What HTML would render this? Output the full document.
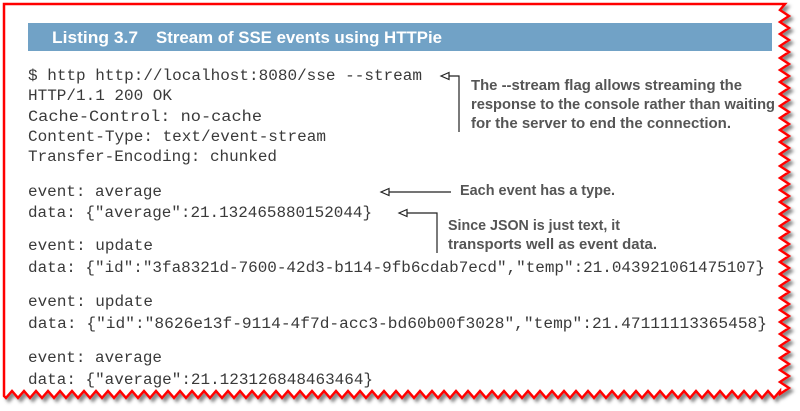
<!DOCTYPE html>
<html><head><meta charset="utf-8"><style>
html,body{margin:0;padding:0;background:#fff;}
svg{display:block}
.c{font-family:"Liberation Mono",monospace;font-size:15.5px;fill:#3a3a3a}
.a{font-family:"Liberation Sans",sans-serif;font-weight:bold;font-size:15px;fill:#555}
</style></head><body>
<svg width="800" height="411" viewBox="0 0 800 411">
<defs><filter id="sh"><feDropShadow dx="3" dy="3" stdDeviation="1.5" flood-color="#888"/></filter></defs>
<path id="brd" d="M4,395 L4,4 L785,4 L787,393 Z" fill="#fff" stroke="#f00" stroke-width="2.5" filter="url(#sh)"/>
<rect x="28" y="23" width="744" height="28" fill="#71a2c6"/>
<g font-family="Liberation Sans,sans-serif" font-weight="bold" font-size="17" fill="#fff">
<text x="52" y="43" textLength="86" lengthAdjust="spacingAndGlyphs">Listing 3.7</text>
<text x="156" y="43" textLength="286" lengthAdjust="spacingAndGlyphs">Stream of SSE events using HTTPie</text>
</g>
<g class="c">
<text x="28" y="80" textLength="394" lengthAdjust="spacingAndGlyphs">$ http http://localhost:8080/sse --stream</text>
<text x="28" y="100" textLength="144" lengthAdjust="spacingAndGlyphs">HTTP/1.1 200 OK</text>
<text x="28" y="121" textLength="234" lengthAdjust="spacingAndGlyphs">Cache-Control: no-cache</text>
<text x="28" y="141" textLength="298" lengthAdjust="spacingAndGlyphs">Content-Type: text/event-stream</text>
<text x="28" y="161" textLength="249" lengthAdjust="spacingAndGlyphs">Transfer-Encoding: chunked</text>
<text x="28" y="196" textLength="134" lengthAdjust="spacingAndGlyphs">event: average</text>
<text x="28" y="217" textLength="344" lengthAdjust="spacingAndGlyphs">data: {"average":21.132465880152044}</text>
<text x="28" y="250" textLength="125" lengthAdjust="spacingAndGlyphs">event: update</text>
<text x="28" y="272" textLength="737" lengthAdjust="spacingAndGlyphs">data: {"id":"3fa8321d-7600-42d3-b114-9fb6cdab7ecd","temp":21.043921061475107}</text>
<text x="28" y="306" textLength="125" lengthAdjust="spacingAndGlyphs">event: update</text>
<text x="28" y="328" textLength="739" lengthAdjust="spacingAndGlyphs">data: {"id":"8626e13f-9114-4f7d-acc3-bd60b00f3028","temp":21.47111113365458}</text>
<text x="28" y="362" textLength="134" lengthAdjust="spacingAndGlyphs">event: average</text>
<text x="28" y="384" textLength="345" lengthAdjust="spacingAndGlyphs">data: {"average":21.123126848463464}</text>
</g>
<g stroke="#222" stroke-width="1.2" fill="#fff">
<polyline points="449,76 459,76 459,132" fill="none"/>
<polygon points="441,76 449,72.5 449,79.5"/>
<line x1="389" y1="192" x2="451" y2="192"/>
<polygon points="381,192 389,188.5 389,195.5"/>
<polyline points="407,213 437,213 437,253" fill="none"/>
<polygon points="399,213 407,209.5 407,216.5"/>
</g>
<g class="a">
<text x="471" y="90" textLength="271" lengthAdjust="spacingAndGlyphs">The --stream flag allows streaming the</text>
<text x="471" y="109" textLength="304" lengthAdjust="spacingAndGlyphs">response to the console rather than waiting</text>
<text x="471" y="128" textLength="260" lengthAdjust="spacingAndGlyphs">for the server to end the connection.</text>
<text x="460" y="195" textLength="155" lengthAdjust="spacingAndGlyphs">Each event has a type.</text>
<text x="448" y="230" textLength="172" lengthAdjust="spacingAndGlyphs">Since JSON is just text, it</text>
<text x="448" y="249" textLength="209" lengthAdjust="spacingAndGlyphs">transports well as event data.</text>
</g>
</svg>
<script>
(function(){var d="M4,396 L4,4 L785,4 ";var y=4,s=0;while(y<390){y+=6;s=1-s;d+="L"+(s?780:789)+","+y+" ";}
var x=786;s=0;while(x>6){x-=6;s=1-s;d+="L"+x+","+(s?391:398)+" ";}d+="L4,396 Z";
document.getElementById("brd").setAttribute("d",d);})();
</script>
</body></html>
